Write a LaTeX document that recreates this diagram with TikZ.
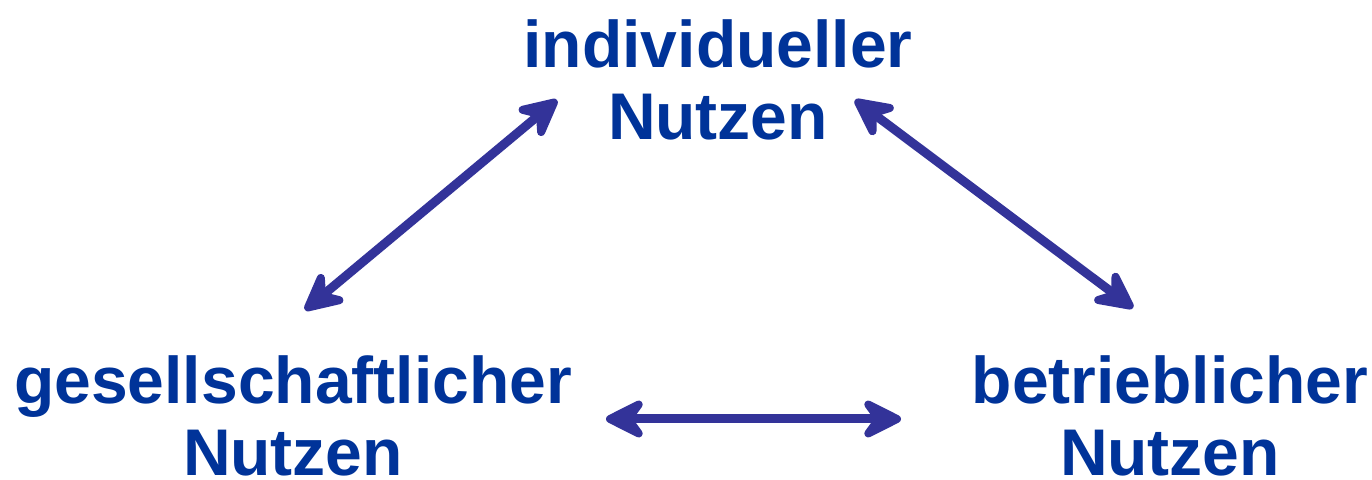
\documentclass[tikz,border=0pt]{standalone}
\usepackage{fontspec}
\setmainfont{Liberation Sans}
\usetikzlibrary{arrows.meta}
\definecolor{txtblue}{HTML}{003399}
\definecolor{arrblue}{HTML}{333399}
\begin{document}
\begin{tikzpicture}[x=0.5pt,y=-0.5pt,
  lbl/.style={align=center,text=txtblue,inner sep=0pt,anchor=base,
    font=\fontsize{33pt}{36pt}\selectfont\bfseries},
  dblarrow/.style={draw=arrblue,line width=4.5pt,line cap=round,
    {Stealth[round,length=25pt,width=25pt,inset=9pt]}-{Stealth[round,length=25pt,width=25pt,inset=9pt]}}]
\useasboundingbox (0,0) rectangle (1372,480);
\node[lbl] (ind) at (718,140) {individueller\\Nutzen};
\node[lbl] (ges) at (293,476) {gesellschaftlicher\\Nutzen};
\node[lbl] (bet) at (1170,476) {betrieblicher\\Nutzen};
\coordinate (a1) at (305,310);
\coordinate (a2) at (557,100);
\coordinate (b1) at (855,100);
\coordinate (b2) at (1133,308);
\coordinate (c1) at (606,419);
\coordinate (c2) at (901,419);
\draw[dblarrow] (a1) -- (a2);
\draw[dblarrow] (b1) -- (b2);
\draw[dblarrow] (c1) -- (c2);
\end{tikzpicture}
\end{document}
